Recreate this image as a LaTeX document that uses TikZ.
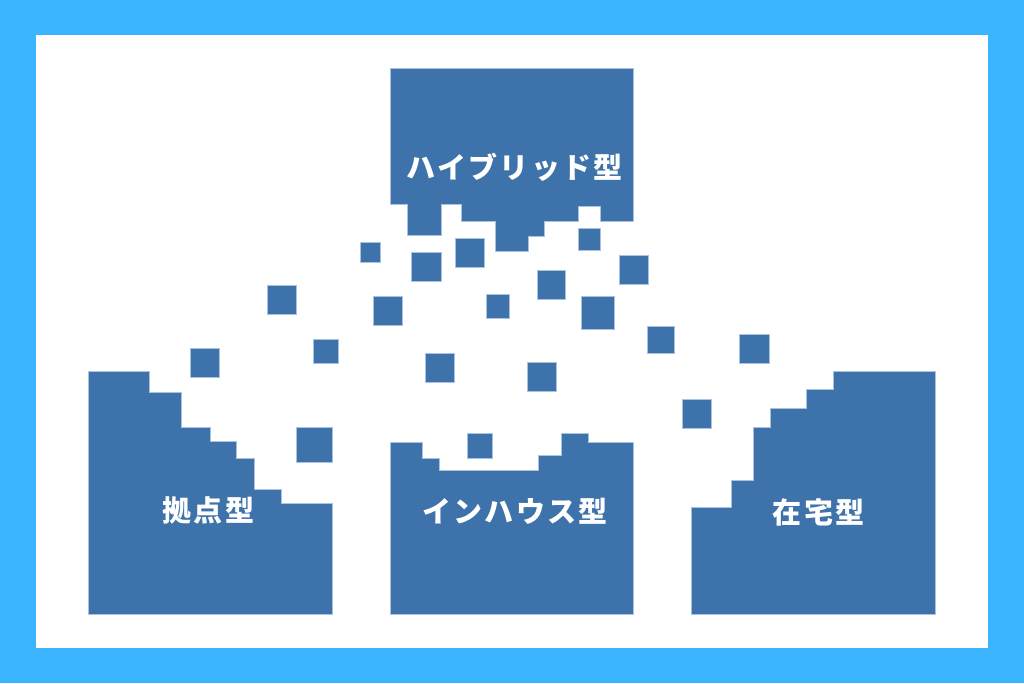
\documentclass[tikz,border=0pt]{standalone}
\usepackage{fontspec}
\newfontfamily\jpfont[LetterSpace=8]{Noto Sans CJK JP}
\definecolor{bgblue}{HTML}{3BB5FF}
\definecolor{boxblue}{HTML}{3D73AA}
\definecolor{edgeblue}{HTML}{A8C2E0}
\tikzset{
  blk/.style={fill=boxblue, draw=edgeblue, line width=0.5pt},
  lbl/.style={text=white, inner sep=0pt, font=\jpfont\bfseries\fontsize{29}{29}\selectfont}
}
\begin{document}
\begin{tikzpicture}[x=1pt,y=-1pt]
\useasboundingbox (0,0) rectangle (1024,683);
\fill[bgblue] (0,0) rectangle (1024,683);
\fill[white] (36,35) rectangle (988,648);
% top shape
\draw[blk] (390,68) -- (633,68) -- (633,221.7) -- (600,221.7) -- (600,206.7) -- (578.3,206.7) -- (578.3,221.7) -- (544,221.7) -- (544,236.7) -- (528,236.7) -- (528,251.7) -- (495.7,251.7) -- (495.7,221.7) -- (461.7,221.7) -- (461.7,204) -- (441,204) -- (441,235.7) -- (407.3,235.7) -- (407.3,204) -- (390,204) -- cycle;
% left shape
\draw[blk] (88.3,371) -- (149,371) -- (149,392.3) -- (181,392.3) -- (181,427.7) -- (210,427.7) -- (210,441) -- (236,441) -- (236,458.7) -- (254,458.7) -- (254,489.3) -- (281,489.3) -- (281,503.3) -- (332.3,503.3) -- (332.3,614) -- (88.3,614) -- cycle;
% middle shape
\draw[blk] (390,442) -- (422.7,442) -- (422.7,458.3) -- (439,458.3) -- (439,470.7) -- (538.3,470.7) -- (538.3,455) -- (561.7,455) -- (561.7,433.3) -- (588.3,433.3) -- (588.3,442) -- (633.3,442) -- (633.3,614) -- (390,614) -- cycle;
% right shape
\draw[blk] (935,371) -- (935,614) -- (691.7,614) -- (691.7,507.3) -- (731,507.3) -- (731,480.7) -- (753.3,480.7) -- (753.3,427.7) -- (770.7,427.7) -- (770.7,408.3) -- (806.7,408.3) -- (806.7,389) -- (833.3,389) -- (833.3,371) -- cycle;
% scattered squares
\foreach \a/\b/\c/\d in {
  360/242.7/380/262.7, 411.7/252.7/441/281.7, 455.3/238/484.3/267,
  578.3/228.3/600.3/250.3, 619.3/255.3/648.3/284.3, 267/285.3/296/314.3,
  373.7/296.3/402.7/325.3, 486.3/294.7/509.7/318.3, 537/270.7/565.7/299.3,
  581.7/296.3/614.3/329, 313.3/339/338/363.3, 190.3/348.3/219.3/377,
  425/353.7/454/382.7, 527/362.7/556/391.7, 647/326/674.3/353.3,
  739.7/334.3/769/363.3, 682.7/399.3/711.7/428.3, 296.7/427.3/332/462.7,
  467.3/433.3/492.3/458.3}
  \draw[blk] (\a,\b) rectangle (\c,\d);
% labels
\node[lbl] (hybrid) at (514.5,167.5) {ハイブリッド型};
\node[lbl] (kyoten) at (208.5,510.5) {拠点型};
\node[lbl] (inhouse) at (515,511.5) {インハウス型};
\node[lbl] (zaitaku) at (818.7,512) {在宅型};
\end{tikzpicture}
\end{document}
